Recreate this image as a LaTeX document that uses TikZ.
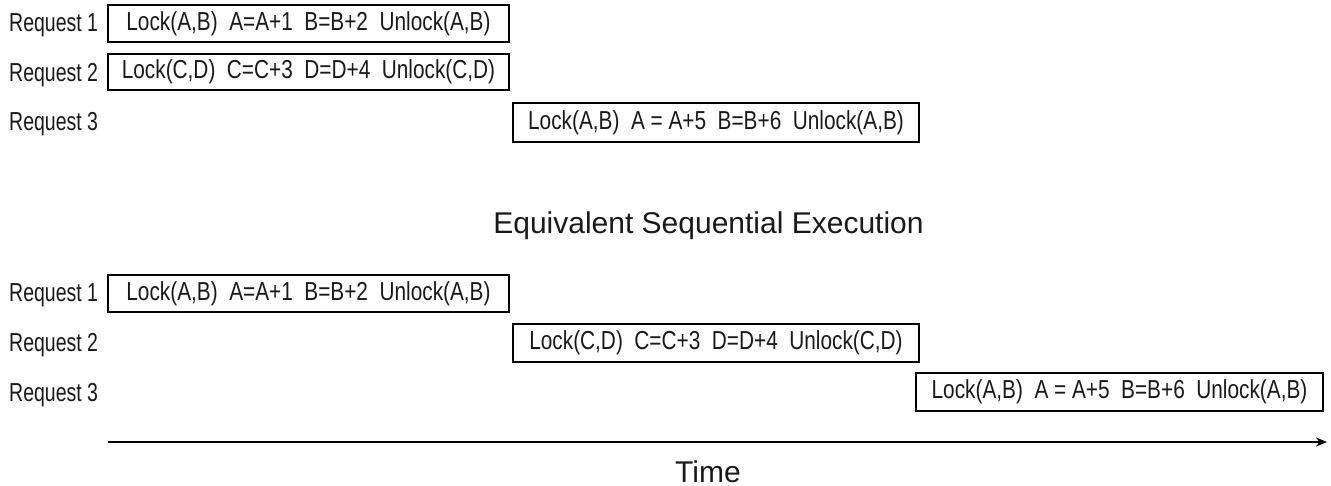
\documentclass[tikz,border=0pt]{standalone}
\usepackage{fontspec}
\setmainfont{Liberation Sans}
\newfontfamily\condfont[FakeStretch=0.8]{Liberation Sans}
\newfontfamily\labelfont[FakeStretch=0.75]{Liberation Sans}
\usetikzlibrary{arrows.meta}
\tikzset{
  opbox/.style={draw=black, line width=2.3pt, inner sep=0pt, font=\condfont\fontsize{26}{30}\selectfont, text=black!90},
  reqlabel/.style={anchor=base west, inner sep=0pt, font=\labelfont\fontsize{26}{30}\selectfont, text=black!90},
  heading/.style={anchor=base, inner sep=0pt, font=\fontsize{30}{34}\selectfont, text=black!90},
}
\begin{document}
\begin{tikzpicture}[x=1pt,y=-1pt]
\useasboundingbox (0,0) rectangle (1331,486);
% top part
\node[reqlabel] (l1) at (9,32) {Request 1};
\node[reqlabel] (l2) at (9,81.5) {Request 2};
\node[reqlabel] (l3) at (9,131) {Request 3};
\node[opbox, minimum width=401pt, minimum height=37pt] (t1) at (308.5,23.5) {Lock(A,B)\ \ A=A+1\ \ B=B+2\ \ Unlock(A,B)};
\node[opbox, minimum width=401pt, minimum height=36pt] (t2) at (308.5,72) {Lock(C,D)\ \ C=C+3\ \ D=D+4\ \ Unlock(C,D)};
\node[opbox, minimum width=406pt, minimum height=39pt] (t3) at (716,122.5) {Lock(A,B)\ \ A = A+5\ \ B=B+6\ \ Unlock(A,B)};
% heading
\node[heading] (title) at (708.5,234) {Equivalent Sequential Execution};
% bottom part
\node[reqlabel] (m1) at (9,302) {Request 1};
\node[reqlabel] (m2) at (9,352) {Request 2};
\node[reqlabel] (m3) at (9,401.5) {Request 3};
\node[opbox, minimum width=401pt, minimum height=37pt] (b1) at (308.5,293.5) {Lock(A,B)\ \ A=A+1\ \ B=B+2\ \ Unlock(A,B)};
\node[opbox, minimum width=406pt, minimum height=38pt] (b2) at (716,343) {Lock(C,D)\ \ C=C+3\ \ D=D+4\ \ Unlock(C,D)};
\node[opbox, minimum width=407pt, minimum height=38pt] (b3) at (1119.5,392) {Lock(A,B)\ \ A = A+5\ \ B=B+6\ \ Unlock(A,B)};
% time axis
\coordinate (ts) at (108,442);
\coordinate (te) at (1327,442);
\draw[line width=2.3pt, -{Stealth[length=11pt,width=9pt]}] (ts) -- (te);
\node[heading] (time) at (708,482) {Time};
\end{tikzpicture}
\end{document}
